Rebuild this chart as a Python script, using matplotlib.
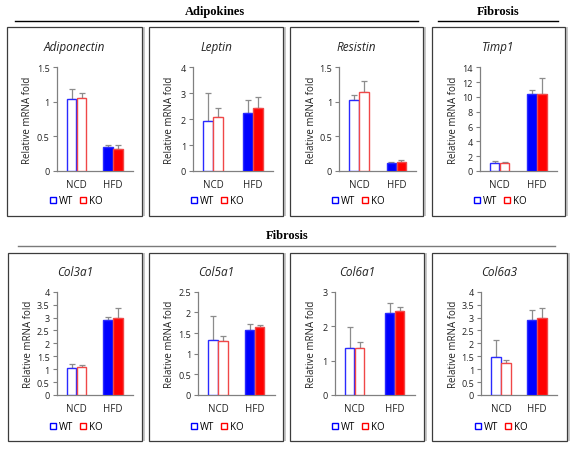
import matplotlib
matplotlib.use("Agg")
import matplotlib.pyplot as plt
from matplotlib.patches import Rectangle
from matplotlib.lines import Line2D
import numpy as np

plt.rcParams['font.family'] = ['Open Sans', 'DejaVu Sans']

genes = ["Adiponectin", "Leptin", "Resistin", "Timp1",
         "Col3a1", "Col5a1", "Col6a1", "Col6a3"]
groups = ["NCD", "HFD"]
series = ["WT", "KO"]

wt_mean = [[1.04, 0.34], [1.91, 2.22], [1.02, 0.11], [1.14, 10.36],
           [1.03, 2.89], [1.32, 1.57], [1.36, 2.38], [1.46, 2.89]]
ko_mean = [[1.055, 0.315], [2.10, 2.43], [1.14, 0.13], [1.09, 10.36],
           [1.07, 2.98], [1.30, 1.64], [1.36, 2.43], [1.23, 2.99]]
wt_err = [[0.14, 0.04], [1.08, 0.50], [0.08, 0.02], [0.22, 0.64],
          [0.16, 0.14], [0.60, 0.16], [0.62, 0.28], [0.68, 0.41]]
ko_err = [[0.08, 0.06], [0.33, 0.43], [0.16, 0.03], [0.09, 2.24],
          [0.09, 0.37], [0.12, 0.05], [0.17, 0.14], [0.14, 0.39]]
y_max = [1.5, 4, 1.5, 14, 4, 2.5, 3, 4]
y_step = [0.5, 1, 0.5, 2, 0.5, 0.5, 1, 0.5]

section_titles = ["Adipokines", "Fibrosis", "Fibrosis"]

W, H = 575, 452
fig = plt.figure(figsize=(W / 100, H / 100), dpi=100)


def fx(x):
    return x / W


def fy(y):
    return 1 - y / H


# layout in pixels: panel box (left, right) and group centres
panel_x = [(7, 142), (149, 283), (290, 423), (432, 565),
           (8, 142), (149, 283), (290, 424), (432, 567)]
centres = [(76.5, 113), (213, 253), (359, 396.5), (499.5, 537),
           (76.5, 113), (218, 254.5), (354.5, 394.5), (501, 537)]
rows = [dict(box=(28, 217), ax=(68.3, 172), title=48, legend=202),
        dict(box=(254, 442), ax=(292.7, 396), title=272, legend=428)]
margin_px = 20
bar_px = 10

blue = "#0000ff"
red = "#ff0000"
wt_edge = "#2a2aff"
ko_edge = "#f04848"
err_c = "#8c8c8c"

for i, g in enumerate(genes):
    r = rows[i // 4]
    pl, pr = panel_x[i]
    fig.patches.append(Rectangle((fx(pr), fy(r["box"][1])), fx(3), fy(r["box"][0]) - fy(r["box"][1]),
                                 transform=fig.transFigure, facecolor="#c8c8c8",
                                 edgecolor="none", zorder=0))
    fig.patches.append(Rectangle((fx(pl), fy(r["box"][1])), fx(pr - pl), fy(r["box"][0]) - fy(r["box"][1]),
                                 transform=fig.transFigure, facecolor="white",
                                 edgecolor="#3c3c3c", lw=0.9, zorder=1))
    c0, c1 = centres[i]
    unit = c1 - c0
    al, ar = c0 - margin_px, c1 + margin_px
    at, ab = r["ax"]
    ax = fig.add_axes([fx(al), fy(ab), fx(ar - al), fy(at) - fy(ab)])
    ax.set_zorder(2)
    ax.patch.set_alpha(0)
    ax.set_xlim(-margin_px / unit, 1 + margin_px / unit)
    ax.set_ylim(0, y_max[i])
    x = np.arange(len(groups))
    bw = bar_px / unit
    off = bw / 2
    for j in range(2):
        filled = j == 1
        ax.bar(x[j] - off, wt_mean[i][j], bw * 0.95, color=blue if filled else "white",
               edgecolor=wt_edge, lw=1.0, zorder=3)
        ax.bar(x[j] + off, ko_mean[i][j], bw * 0.95, color=red if filled else "white",
               edgecolor=ko_edge, lw=1.0, zorder=3)
    ax.errorbar(x - off, wt_mean[i], yerr=[[0, 0], wt_err[i]],
                fmt="none", ecolor=err_c, elinewidth=0.9, capsize=2.2, capthick=0.9, zorder=2)
    ax.errorbar(x + off, ko_mean[i], yerr=[[0, 0], ko_err[i]],
                fmt="none", ecolor=err_c, elinewidth=0.9, capsize=2.2, capthick=0.9, zorder=2)
    ticks = np.arange(0, y_max[i] + 1e-9, y_step[i])
    ax.set_yticks(ticks)
    ax.set_yticklabels(["%g" % t for t in ticks])
    ax.set_xticks(x)
    ax.set_xticklabels(groups)
    ax.tick_params(axis="x", length=0, pad=6, labelsize=7, colors="#222222")
    ax.tick_params(axis="y", length=3, width=0.8, color="#808080", pad=2,
                   labelsize=6.5, labelcolor="#222222")
    for s in ["top", "right"]:
        ax.spines[s].set_visible(False)
    for s in ["left", "bottom"]:
        ax.spines[s].set_color("#808080")
        ax.spines[s].set_linewidth(0.9)
    fig.text(fx(pl + 21), (fy(at) + fy(ab)) / 2, "Relative mRNA fold", rotation=90,
             ha="center", va="center", fontsize=7, color="#222222")
    fig.text(fx((pl + pr) / 2), fy(r["title"]), g, ha="center", va="center",
             fontsize=8.5, style="italic", color="#222222")
    handles = [Line2D([], [], marker="s", ls="", markerfacecolor="white",
                      markeredgecolor=blue, markeredgewidth=1.0, markersize=5),
               Line2D([], [], marker="s", ls="", markerfacecolor="white",
                      markeredgecolor=red, markeredgewidth=1.0, markersize=5)]
    fig.legend(handles, series, loc="center", ncol=2, frameon=False,
               bbox_to_anchor=(fx((pl + pr) / 2 + 1), fy(r["legend"])),
               fontsize=7, handlelength=0.8, handletextpad=0.2, columnspacing=0.6,
               borderpad=0, borderaxespad=0)

heads = [(section_titles[0], 215, 12, 15, 418, 22, "black"),
         (section_titles[1], 498, 12, 438, 558, 22, "black"),
         (section_titles[2], 287, 236, 18, 555, 247, "#7a7a7a")]
for txt, cx, cy, l0, l1, ly, lc in heads:
    fig.text(fx(cx), fy(cy), txt, ha="center", va="center", fontsize=9,
             fontweight="bold", family="Liberation Serif")
    fig.add_artist(Line2D([fx(l0), fx(l1)], [fy(ly), fy(ly)], color=lc, lw=1.0,
                          transform=fig.transFigure))

fig.savefig("out.png", dpi=100)
